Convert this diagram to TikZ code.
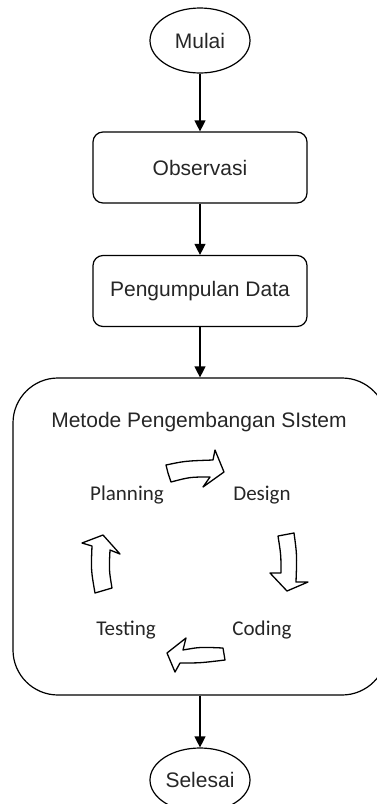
\documentclass[tikz,border=0pt]{standalone}
\usepackage{fontspec}
\setmainfont{Liberation Sans}
\newfontfamily\calib{Carlito}
\usetikzlibrary{arrows.meta,shapes.geometric}
\begin{document}
\begin{tikzpicture}[x=1pt,y=-1pt,
  line width=1.2pt,
  txt/.style={font=\fontsize{21}{25}\selectfont, text=black!85},
  flow/.style={-{Triangle[length=11pt,width=11pt]}},
  term/.style={draw, ellipse, txt, minimum width=100pt, minimum height=65pt, inner sep=0pt},
  proc/.style={draw, txt, rounded corners=10pt, minimum width=214pt, minimum height=71pt, inner sep=0pt},
  lbl/.style={font=\calib\fontsize{21}{25}\selectfont, text=black!85},
  cyc/.style={draw, line width=1.3pt, line join=round, fill=white}
]
\useasboundingbox (0,0) rectangle (376,804);

\node[term] (mulai) at (200,40.5) {Mulai};
\node[proc] (obs) at (200,167.5) {Observasi};
\node[proc] (peng) at (200,291) {Pengumpulan Data};
\node[draw, rounded corners=45pt, minimum width=374pt, minimum height=317pt, inner sep=0pt] (sdlc) at (200,536.5) {};
\node[txt] (title) at (199,422) {Metode Pengembangan SIstem};
\node[term, minimum height=64pt] (selesai) at (200,780) {Selesai};

\node[lbl] (plan) at (127,495) {Planning};
\node[lbl] (design) at (262,495) {Design};
\node[lbl] (test) at (126,630) {Testing};
\node[lbl] (coding) at (262,630) {Coding};

% cycle block arrows
\draw[cyc] (166,465) .. controls (185,461) .. (213,460) -- (215,450) -- (224,472) -- (203,487) -- (210,477)
  .. controls (190,477) .. (171,482) -- (168,473) -- cycle;
\draw[cyc] (278,536) -- (294,533) .. controls (297,555) .. (296,582) -- (308,582) -- (287,591) -- (270,573) -- (281,573)
  .. controls (281,555) .. cycle;
\draw[cyc] (167,653) -- (186,638) -- (183,650) .. controls (200,647) .. (223,648) -- (225,660)
  .. controls (200,663) .. (180,663) -- (175,672) -- cycle;
\draw[cyc] (103,535) -- (120,554) -- (110,550) .. controls (109,570) .. (112,588) -- (95,593)
  .. controls (91,570) .. (92,546) -- (82,543) -- cycle;

\draw[flow] (mulai) -- (obs);
\draw[flow] (obs) -- (peng);
\draw[flow] (peng) -- (sdlc);
\draw[flow] (sdlc) -- (selesai);
\end{tikzpicture}
\end{document}
